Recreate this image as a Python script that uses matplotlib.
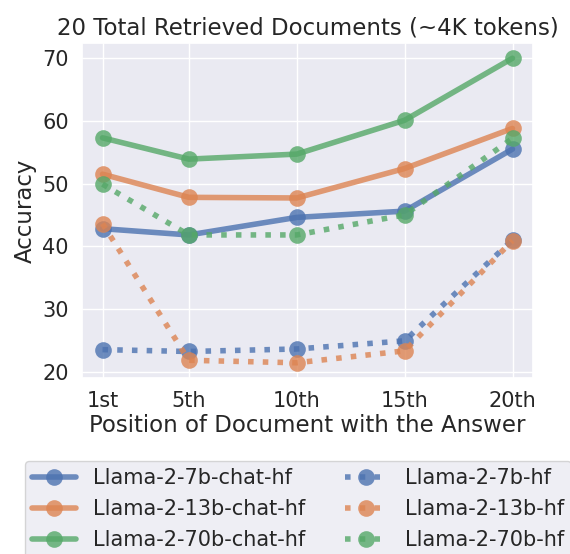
import numpy as np
import matplotlib
matplotlib.use("Agg")
import matplotlib.pyplot as plt
import seaborn as sns

sns.set_theme(style="darkgrid", palette="deep")

positions = [1, 5, 10, 15, 20]
pos_labels = ["1st", "5th", "10th", "15th", "20th"]

chat_7b = [42.8, 41.8, 44.6, 45.6, 55.5]
chat_13b = [51.5, 47.8, 47.7, 52.4, 58.8]
chat_70b = [57.3, 53.9, 54.7, 60.1, 70.0]
base_7b = [23.5, 23.2, 23.6, 24.9, 41.0]
base_13b = [43.6, 21.8, 21.4, 23.3, 40.9]
base_70b = [49.9, 41.8, 41.8, 45.0, 57.2]

colors = sns.color_palette("deep")

fig = plt.figure(figsize=(5.7, 5.54), dpi=100)
ax = fig.add_axes([82 / 570, 1 - 378 / 554, 451 / 570, 335 / 554])

style = dict(marker="o", markersize=12, markeredgewidth=0, linewidth=4, alpha=0.8)
ax.plot(positions, chat_7b, color=colors[0], label="Llama-2-7b-chat-hf", **style)
ax.plot(positions, chat_13b, color=colors[1], label="Llama-2-13b-chat-hf", **style)
ax.plot(positions, chat_70b, color=colors[2], label="Llama-2-70b-chat-hf", **style)
ax.plot(positions, base_7b, color=colors[0], linestyle=":", label="Llama-2-7b-hf", **style)
ax.plot(positions, base_13b, color=colors[1], linestyle=":", label="Llama-2-13b-hf", **style)
ax.plot(positions, base_70b, color=colors[2], linestyle=":", label="Llama-2-70b-hf", **style)

ax.set_xticks(positions)
ax.set_xticklabels(pos_labels)
ax.set_yticks([20, 30, 40, 50, 60, 70])
ax.tick_params(labelsize=15)
ax.set_xlabel("Position of Document with the Answer", fontsize=16.5, labelpad=2)
ax.set_ylabel("Accuracy", fontsize=16.5)
ax.set_title("20 Total Retrieved Documents (~4K tokens)", fontsize=16.5)

fig.legend(loc="upper left", bbox_to_anchor=(25 / 570, 1 - 461 / 554), ncol=2,
           fontsize=15, frameon=True, borderaxespad=0, borderpad=0.35,
           labelspacing=0.52, columnspacing=1.9, handlelength=2.1)

fig.savefig("out.png", dpi=100)
